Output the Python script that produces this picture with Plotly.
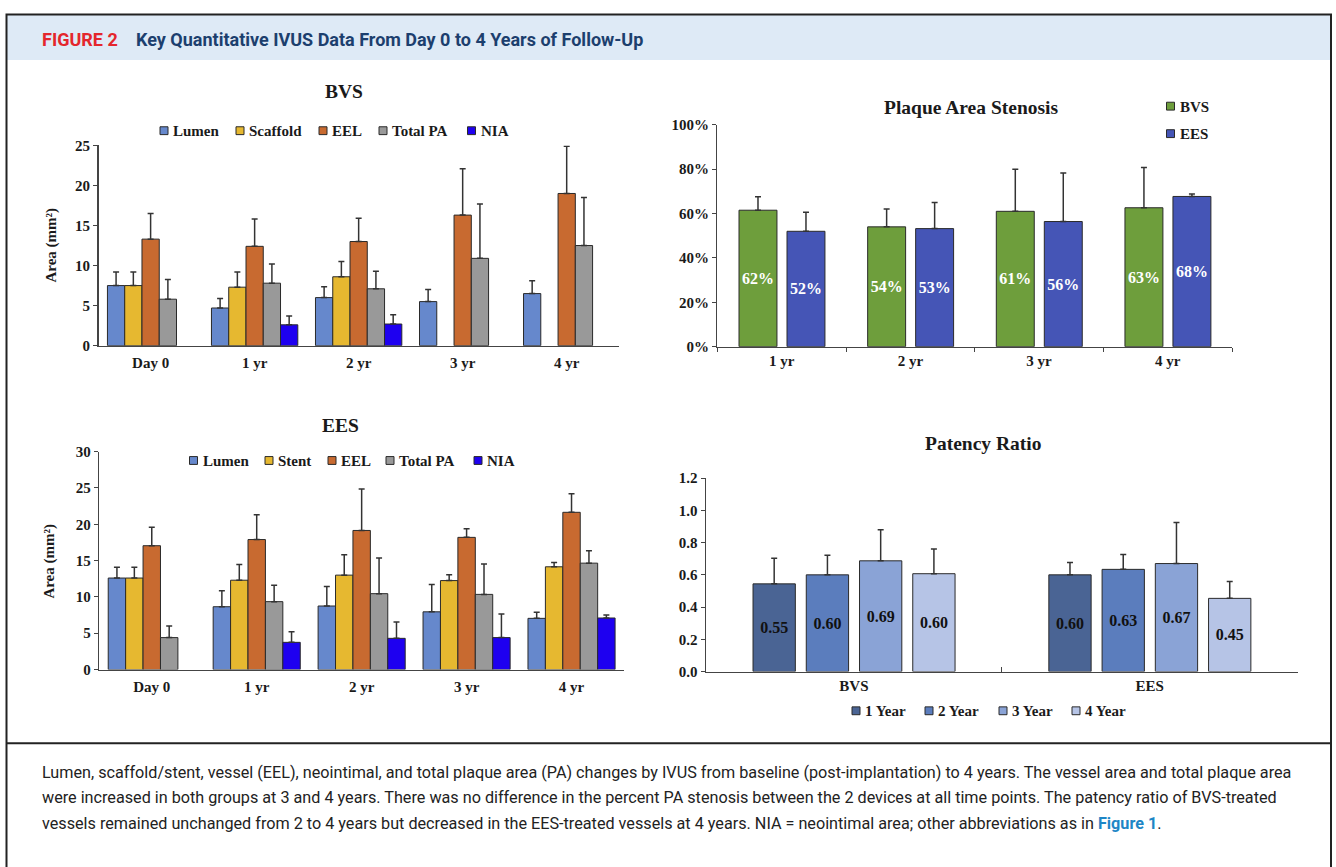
import plotly.graph_objects as go

W, H = 1336, 867

# ---------------- data ----------------
time_cats = ["Day 0", "1 yr", "2 yr", "3 yr", "4 yr"]

bvs_lumen = [7.5, 4.7, 6.0, 5.5, 6.5]
bvs_lumen_sd = [1.7, 1.2, 1.35, 1.5, 1.6]
bvs_scaffold = [7.5, 7.3, 8.6, None, None]
bvs_scaffold_sd = [1.7, 1.9, 1.9, None, None]
bvs_eel = [13.3, 12.4, 13.0, 16.3, 19.0]
bvs_eel_sd = [3.2, 3.4, 2.9, 5.8, 5.9]
bvs_tpa = [5.8, 7.8, 7.1, 10.9, 12.5]
bvs_tpa_sd = [2.45, 2.4, 2.2, 6.8, 6.0]
bvs_nia = [None, 2.6, 2.7, None, None]
bvs_nia_sd = [None, 1.1, 1.15, None, None]

ees_lumen = [12.6, 8.65, 8.75, 7.95, 7.05]
ees_lumen_sd = [1.5, 2.2, 2.7, 3.75, 0.85]
ees_stent = [12.6, 12.3, 13.0, 12.25, 14.15]
ees_stent_sd = [1.5, 2.15, 2.8, 0.8, 0.6]
ees_eel = [17.05, 17.9, 19.15, 18.2, 21.65]
ees_eel_sd = [2.55, 3.4, 5.7, 1.2, 2.55]
ees_tpa = [4.4, 9.35, 10.45, 10.35, 14.65]
ees_tpa_sd = [1.6, 2.25, 4.9, 4.2, 1.7]
ees_nia = [None, 3.75, 4.3, 4.4, 7.1]
ees_nia_sd = [None, 1.45, 2.25, 3.25, 0.4]

pas_cats = ["1 yr", "2 yr", "3 yr", "4 yr"]
pas_bvs = [61.5, 54.0, 61.0, 62.6]
pas_bvs_sd = [6.1, 8.0, 19.0, 18.2]
pas_ees = [52.0, 53.2, 56.4, 67.7]
pas_ees_sd = [8.6, 11.8, 21.9, 1.1]

pr_cats = ["BVS", "EES"]
pr_names = ["1 Year", "2 Year", "3 Year", "4 Year"]
pr_vals = [[0.544, 0.60], [0.60, 0.634], [0.687, 0.67], [0.607, 0.454]]
pr_sd = [[0.159, 0.076], [0.121, 0.093], [0.193, 0.255], [0.153, 0.104]]
pr_labels = [["0.55", "0.60"], ["0.60", "0.63"], ["0.69", "0.67"], ["0.60", "0.45"]]

# ---------------- style ----------------
SERIF = "Liberation Serif, Times New Roman, serif"
SANS = "Roboto, Noto Sans, sans-serif"
C_LUMEN, C_SCAF, C_EEL, C_TPA, C_NIA = "#6688CC", "#E6B830", "#C86A30", "#999999", "#1E00F0"
C_GREEN, C_BLUE = "#6E9E3C", "#4555B6"
PR_COLORS = ["#4A6494", "#5B7DBD", "#8AA3D6", "#B6C4E6"]
EDGE = "#2a2a2a"
TXT = "#1a1a1a"


def fx(x):
    return x / W


def fy(y):
    return 1 - y / H


fig = go.Figure()


def add_bar(x, y, sd, name, color, xa, ya, offset, width, text=None,
            textcolor=None, texttemplate=None):
    kw = {}
    if text is not None:
        kw["text"] = text
    if texttemplate is not None:
        kw["texttemplate"] = texttemplate
    if text is not None or texttemplate is not None:
        kw.update(textposition="inside", insidetextanchor="middle",
                  textfont=dict(family=SERIF, size=16, color=textcolor, weight="bold"),
                  textangle=0)
    fig.add_trace(go.Bar(
        x=x, y=y, name=name, xaxis=xa, yaxis=ya, showlegend=False,
        offset=offset, width=width,
        marker=dict(color=color, line=dict(color=EDGE, width=1)),
        error_y=dict(type="data", array=[s if s is not None else 0 for s in sd],
                     arrayminus=[0] * len(sd), symmetric=False,
                     color="#333333", thickness=1.5, width=3),
        **kw))


# BVS panel
w5 = 0.166
start5 = -0.415
bvs_series = [("Lumen", bvs_lumen, bvs_lumen_sd, C_LUMEN),
              ("Scaffold", bvs_scaffold, bvs_scaffold_sd, C_SCAF),
              ("EEL", bvs_eel, bvs_eel_sd, C_EEL),
              ("Total PA", bvs_tpa, bvs_tpa_sd, C_TPA),
              ("NIA", bvs_nia, bvs_nia_sd, C_NIA)]
for i, (n, v, s, c) in enumerate(bvs_series):
    add_bar(time_cats, v, s, n, c, "x", "y", start5 + i * w5, w5)

ees_series = [("Lumen", ees_lumen, ees_lumen_sd, C_LUMEN),
              ("Stent", ees_stent, ees_stent_sd, C_SCAF),
              ("EEL", ees_eel, ees_eel_sd, C_EEL),
              ("Total PA", ees_tpa, ees_tpa_sd, C_TPA),
              ("NIA", ees_nia, ees_nia_sd, C_NIA)]
for i, (n, v, s, c) in enumerate(ees_series):
    add_bar(time_cats, v, s, n, c, "x2", "y2", start5 + i * w5, w5)

# Plaque area stenosis
pas_series = [("BVS", pas_bvs, pas_bvs_sd, C_GREEN, -0.332),
              ("EES", pas_ees, pas_ees_sd, C_BLUE, 0.041)]
for n, v, s, c, off in pas_series:
    add_bar(pas_cats, v, s, n, c, "x3", "y3", off, 0.295,
            texttemplate="%{y:.0f}%", textcolor="white")

# Patency ratio
pr_offsets = [-0.341, -0.161, 0.019, 0.199]
for i in range(4):
    add_bar(pr_cats, pr_vals[i], pr_sd[i], pr_names[i], PR_COLORS[i], "x4", "y4",
            pr_offsets[i], 0.143, text=pr_labels[i], textcolor="#111111")

tickfont = dict(family=SERIF, size=15, color=TXT, weight="bold")
axis_common = dict(showline=True, linecolor="#444444", linewidth=1.5, showgrid=False,
                   zeroline=False, tickfont=tickfont, fixedrange=True)

layout = dict(
    width=W, height=H, margin=dict(l=0, r=0, t=0, b=0),
    paper_bgcolor="white", plot_bgcolor="white",
    barmode="overlay", showlegend=False,
    font=dict(family=SERIF, color=TXT),
    xaxis=dict(domain=[fx(98.6), fx(618.7)], anchor="y", type="category", ticks="",
               ticklabelstandoff=3, **axis_common),
    yaxis=dict(domain=[fy(344), fy(140)], anchor="x", range=[0, 25], dtick=5,
               ticks="outside", ticklen=4, tickcolor="#444444", **axis_common),
    xaxis2=dict(domain=[fx(99.3), fx(624)], anchor="y2", type="category", ticks="",
                ticklabelstandoff=3, **axis_common),
    yaxis2=dict(domain=[fy(674), fy(452)], anchor="x2", range=[0, 30], dtick=5,
                ticks="outside", ticklen=4, tickcolor="#444444", **axis_common),
    xaxis3=dict(domain=[fx(717.4), fx(1232)], anchor="y3", type="category",
                ticks="outside", tickson="boundaries", ticklen=4, tickcolor="#444444",
                **axis_common),
    yaxis3=dict(domain=[fy(345), fy(119)], anchor="x3", range=[0, 100], dtick=20,
                ticksuffix="%", ticks="outside", ticklen=4, tickcolor="#444444", **axis_common),
    xaxis4=dict(domain=[fx(706), fx(1297.6)], anchor="y4", type="category",
                ticks="inside", tickson="boundaries", ticklen=5, tickcolor="#444444",
                **axis_common),
    yaxis4=dict(domain=[fy(676), fy(479)], anchor="x4", range=[0, 1.2], dtick=0.2,
                tickformat=".1f", ticks="outside", ticklen=4, tickcolor="#444444", **axis_common),
)
fig.update_layout(**layout)

# ---------------- frame / header ----------------
shapes = [
    dict(type="rect", xref="paper", yref="paper", x0=fx(7), x1=fx(1331), y0=fy(53), y1=fy(7),
         fillcolor="#DEEAF6", line=dict(width=0), layer="below"),
    dict(type="rect", xref="paper", yref="paper", x0=fx(6.5), x1=fx(1331), y0=fy(900), y1=fy(6.5),
         fillcolor="rgba(0,0,0,0)", line=dict(color="#222222", width=2)),
    dict(type="line", xref="paper", yref="paper", x0=fx(6.5), x1=fx(1331), y0=fy(749), y1=fy(749),
         line=dict(color="#222222", width=2)),
]

ann = []


def add_text(txt, x, y, size, color=TXT, family=SERIF, xanchor="center",
             yanchor="middle", angle=0):
    ann.append(dict(text=txt, x=fx(x), y=fy(y), xref="paper", yref="paper", showarrow=False,
                    xanchor=xanchor, yanchor=yanchor, textangle=angle,
                    font=dict(family=family, size=size, color=color)))


# manual legends (small outlined squares + labels)
def legend_item(name, color, cx, cy):
    shapes.append(dict(type="rect", xref="paper", yref="paper",
                       x0=fx(cx - 4), x1=fx(cx + 4), y0=fy(cy + 4), y1=fy(cy - 4),
                       fillcolor=color, line=dict(color=EDGE, width=1)))
    add_text("<b>%s</b>" % name, cx + 7, cy + 0.5, 15, xanchor="left")


for (n, _, _, c), cx in zip(bvs_series, [164, 240, 323, 383, 471.5]):
    legend_item(n, c, cx, 125)
for (n, _, _, c), cx in zip(ees_series, [193.5, 269, 332, 390, 478]):
    legend_item(n, c, cx, 461)
for (n, _, _, c, _), cy in zip(pas_series, [100, 128]):
    legend_item(n, c, 1170.5, cy)
for n, c, cx in zip(pr_names, PR_COLORS, [856, 929, 1003, 1076]):
    legend_item(n, c, cx, 716)

add_text("<b>FIGURE 2</b>", 40, 32, 18, color="#E4262C", family=SANS, xanchor="left")
add_text("<b>Key Quantitative IVUS Data From Day 0 to 4 Years of Follow-Up</b>", 134, 32, 18,
         color="#1C3F6E", family=SANS, xanchor="left")

add_text("<b>BVS</b>", 344, 85, 19.5)
add_text("<b>EES</b>", 340, 425, 19.5)
add_text("<b>Plaque Area Stenosis</b>", 971, 101, 19.5)
add_text("<b>Patency Ratio</b>", 983, 444, 19.5)
add_text("<b>Area (mm²)</b>", 52, 242, 15, angle=-90)
add_text("<b>Area (mm²)</b>", 50, 563, 15, angle=-90)

caption_lines = [
    "Lumen, scaffold/stent, vessel (EEL), neointimal, and total plaque area (PA) changes by IVUS from baseline (post-implantation) to 4 years. The vessel area and total plaque area",
    "were increased in both groups at 3 and 4 years. There was no difference in the percent PA stenosis between the 2 devices at all time points. The patency ratio of BVS-treated",
    "vessels remained unchanged from 2 to 4 years but decreased in the EES-treated vessels at 4 years. NIA = neointimal area; other abbreviations as in <b><span style='color:#1E86C6'>Figure 1</span></b>.",
]
for i, line in enumerate(caption_lines):
    add_text(line, 40, 779 + i * 25.7, 16.2, color="#222222", family=SANS, xanchor="left")

fig.update_layout(shapes=shapes, annotations=ann)

# remove the default page margin so the 1336x867 figure fills the window exactly
fig.write_html("out.html", config={"displayModeBar": False, "staticPlot": True},
               post_script="document.body.style.margin='0';document.body.style.overflow='hidden';")
